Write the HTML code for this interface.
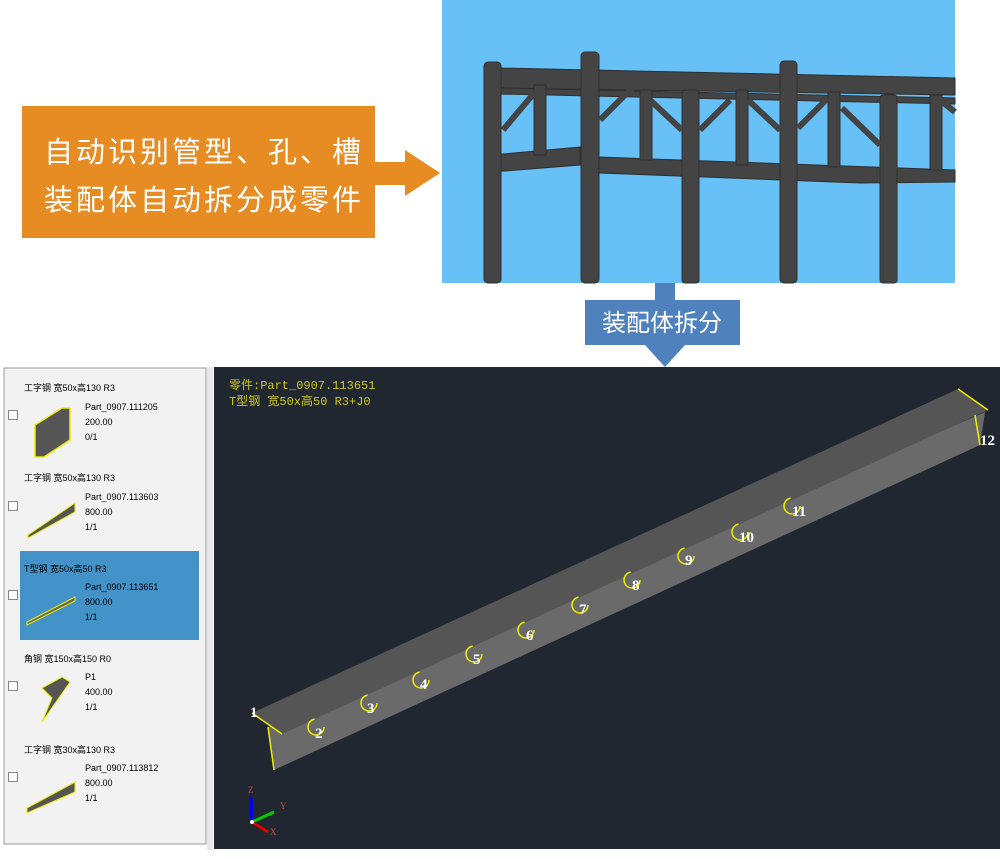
<!DOCTYPE html>
<html><head><meta charset="utf-8"><style>
body{margin:0;width:1000px;height:859px;background:#fff;position:relative;overflow:hidden;font-family:"Liberation Sans","Noto Sans CJK SC",sans-serif}
.a{position:absolute}
.it{position:absolute;font-size:9px;color:#000;font-family:"Liberation Sans","Noto Sans CJK SC",sans-serif}
.cb{position:absolute;width:8px;height:8px;border:1px solid #888;background:#fff}
</style></head><body>
<div class="a" style="left:22px;top:106px;width:353px;height:132px;background:#E78C22"></div>
<div class="a" style="left:44px;top:126px;color:#fff;font-size:29px;line-height:48px;font-family:'Noto Sans CJK SC',sans-serif;letter-spacing:3px">自动识别管型、孔、槽<br>装配体自动拆分成零件</div>
<svg class="a" style="left:0;top:0" width="1000" height="859">
<polygon points="374,162 405,162 405,150 440,173 405,196 405,185 374,185" fill="#E78C22"/>
<rect x="442" y="0" width="513" height="283" fill="#67C1F7"/>
<g fill="#444" stroke="#2f2f2f" stroke-width="1">
<polygon points="500,68 955,78 955,95 500,88"/>
<polygon points="500,88 955,98 955,104 500,94"/>
<polygon points="492,155 580,147 580,165 492,172"/>
<polygon points="599,157 955,170 955,182 860,183 599,173"/>
<rect x="534" y="85" width="12" height="70"/>
<rect x="640" y="90" width="12" height="70"/>
<rect x="736" y="90" width="12" height="75"/>
<rect x="828" y="92" width="12" height="75"/>
<rect x="930" y="95" width="12" height="75"/>
<rect x="682" y="90" width="17" height="193" rx="3"/>
<rect x="880" y="95" width="17" height="188" rx="3"/>
<rect x="484" y="62" width="17" height="221" rx="4"/>
<rect x="581" y="52" width="18" height="231" rx="4"/>
<rect x="780" y="61" width="17" height="222" rx="4"/>
</g>
<g stroke="#444" stroke-width="6">
<line x1="503" y1="130" x2="535" y2="92"/><line x1="600" y1="120" x2="635" y2="85"/>
<line x1="650" y1="100" x2="682" y2="130"/><line x1="700" y1="130" x2="730" y2="100"/>
<line x1="748" y1="100" x2="780" y2="130"/><line x1="798" y1="128" x2="828" y2="98"/>
<line x1="842" y1="108" x2="880" y2="145"/><line x1="940" y1="100" x2="955" y2="112"/>
</g>
<rect x="655" y="283" width="20" height="18" fill="#4F81BD"/>
<polygon points="645,345 685,345 665,367" fill="#4F81BD"/>
<rect x="585" y="300" width="155" height="45" fill="#4F81BD"/>
<text x="662" y="331" fill="#fff" font-size="24" text-anchor="middle" font-family="Noto Sans CJK SC,sans-serif">装配体拆分</text>
<rect x="0" y="367" width="1000" height="492" fill="#fff"/>
<rect x="4" y="368" width="202" height="476" fill="#f2f2f2" stroke="#999"/>
<rect x="207" y="367" width="6" height="483" fill="#e8e8e8"/>
<rect x="214" y="367" width="786" height="482" fill="#212731"/>
<rect x="20" y="551" width="179" height="89" fill="#4393C8"/>
<polygon points="35,425 62,408 70,408 70,440 44,457 35,457" fill="#555" stroke="#ee0" stroke-width="1.5"/>
<polygon points="28,535 75,503 75,512 28,538" fill="#555" stroke="#ee0"/>
<polygon points="27,622 75,597 75,601 27,625" fill="#666" stroke="#ee0"/>
<polygon points="42,688 62,677 70,682 42,722 52,698" fill="#555" stroke="#ee0"/>
<polygon points="27,808 75,782 75,792 27,813" fill="#555" stroke="#ee0"/>
<polygon points="268,727 985,412 980,445 274,770" fill="#6a6a6a"/>
<polygon points="252,713 958,389 988,410 282,734" fill="#555"/>
<line x1="252" y1="713" x2="282" y2="734" stroke="#ee0" stroke-width="1.5"/>
<line x1="268" y1="727" x2="274" y2="770" stroke="#ee0" stroke-width="1.5"/>
<line x1="958" y1="389" x2="988" y2="410" stroke="#ee0" stroke-width="1.5"/>
<line x1="975" y1="415" x2="980" y2="445" stroke="#ee0" stroke-width="1.5"/>
<g fill="none" stroke="#ee0" stroke-width="1.5" stroke-dasharray="36 14">
<circle cx="316" cy="727" r="8"/><circle cx="369" cy="703" r="8"/><circle cx="421" cy="680" r="8"/>
<circle cx="474" cy="654" r="8"/><circle cx="526" cy="630" r="8"/><circle cx="580" cy="605" r="8"/>
<circle cx="632" cy="580" r="8"/><circle cx="686" cy="556" r="8"/><circle cx="740" cy="532" r="8"/><circle cx="792" cy="506" r="8"/>
</g>
<g fill="#fff" font-family="Liberation Serif,serif" font-size="15" font-weight="bold">
<text x="250" y="717">1</text><text x="315" y="738">2</text><text x="367" y="713">3</text><text x="420" y="689">4</text>
<text x="473" y="664">5</text><text x="526" y="640">6</text><text x="579" y="614">7</text><text x="632" y="590">8</text>
<text x="685" y="565">9</text><text x="739" y="542">10</text><text x="792" y="516">11</text><text x="980" y="445">12</text>
</g>
<g font-family="Liberation Mono,Noto Sans CJK SC,monospace" font-size="12" fill="#ccc61e">
<text x="229" y="389">零件:Part_0907.113651</text><text x="229" y="405">T型钢 宽50x高50 R3+J0</text>
</g>
<line x1="252" y1="822" x2="251" y2="797" stroke="#00f" stroke-width="3"/>
<line x1="252" y1="822" x2="274" y2="812" stroke="#0c0" stroke-width="3"/>
<line x1="252" y1="822" x2="268" y2="832" stroke="#d00" stroke-width="3"/>
<circle cx="252" cy="822" r="2" fill="#fff"/>
<g fill="#a55" font-size="9" font-family="Liberation Serif,serif"><text x="248" y="793">Z</text><text x="280" y="809">Y</text><text x="270" y="835">X</text></g>
</svg>
<div class="it" style="left:24px;top:381px">工字钢 宽50x高130 R3</div>
<div class="it" style="left:85px;top:400px;line-height:15px">Part_0907.111205<br>200.00<br>0/1</div>
<div class="it" style="left:24px;top:471px">工字钢 宽50x高130 R3</div>
<div class="it" style="left:85px;top:490px;line-height:15px">Part_0907.113603<br>800.00<br>1/1</div>
<div class="it" style="left:24px;top:562px">T型钢 宽50x高50 R3</div>
<div class="it" style="left:85px;top:580px;line-height:15px">Part_0907.113651<br>800.00<br>1/1</div>
<div class="it" style="left:24px;top:652px">角钢 宽150x高150 R0</div>
<div class="it" style="left:85px;top:670px;line-height:15px">P1<br>400.00<br>1/1</div>
<div class="it" style="left:24px;top:743px">工字钢 宽30x高130 R3</div>
<div class="it" style="left:85px;top:761px;line-height:15px">Part_0907.113812<br>800.00<br>1/1</div>
<div class="cb" style="left:8px;top:410px"></div>
<div class="cb" style="left:8px;top:501px"></div>
<div class="cb" style="left:8px;top:590px"></div>
<div class="cb" style="left:8px;top:681px"></div>
<div class="cb" style="left:8px;top:772px"></div>
</body></html>
